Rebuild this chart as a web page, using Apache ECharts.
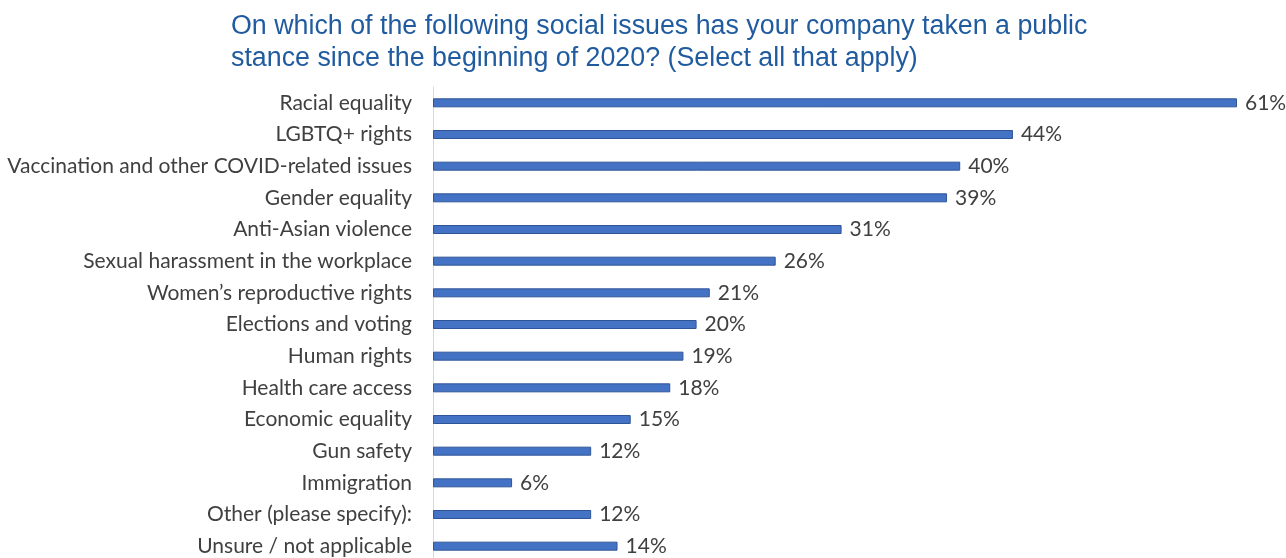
<!DOCTYPE html>
<html>
<head>
<meta charset="utf-8">
<script src="https://cdn.jsdelivr.net/npm/echarts@6/dist/echarts.min.js"></script>
<style>
  html, body { margin: 0; padding: 0; background: #ffffff; }
  #chart { width: 1286px; height: 558px; }
</style>
</head>
<body>
<div id="chart"></div>
<script>
// Social issues, listed top to bottom
const categories = [
  'Racial equality',
  'LGBTQ+ rights',
  'Vaccination and other COVID-related issues',
  'Gender equality',
  'Anti-Asian violence',
  'Sexual harassment in the workplace',
  'Women\u2019s reproductive rights',
  'Elections and voting',
  'Human rights',
  'Health care access',
  'Economic equality',
  'Gun safety',
  'Immigration',
  'Other (please specify):',
  'Unsure / not applicable'
];
// Share of companies (%)
const shares = [61, 44, 40, 39, 31, 26, 21, 20, 19, 18, 15, 12, 6, 12, 14];

const titleLines = [
  'On which of the following social issues has your company taken a public',
  'stance since the beginning of 2020? (Select all that apply)'
];

const chart = echarts.init(document.getElementById('chart'));
chart.setOption({
  animation: false,
  title: {
    text: titleLines.join('\n'),
    left: 226,
    top: 6,
    textStyle: {
      fontFamily: 'Liberation Sans, Arial, sans-serif',
      fontSize: 26.8,
      fontWeight: 'normal',
      color: '#1f5b9e',
      lineHeight: 32
    }
  },
  grid: {
    left: 433, top: 87, width: 804, height: 475,
    outerBoundsMode: 'none'
  },
  xAxis: {
    type: 'value',
    min: 0,
    max: 61,
    show: false
  },
  yAxis: {
    type: 'category',
    data: categories,
    inverse: true,
    axisLine: { show: true, lineStyle: { color: '#d9d9d9', width: 1 } },
    axisTick: { show: false },
    axisLabel: {
      margin: 21,
      fontFamily: 'Lato, Open Sans, sans-serif',
      fontSize: 21,
      color: '#404040'
    }
  },
  series: [{
    type: 'bar',
    data: shares,
    barWidth: 9,
    itemStyle: { color: '#4472c4', borderColor: '#2f5597', borderWidth: 1 },
    label: {
      show: true,
      position: 'right',
      distance: 8,
      formatter: '{c}%',
      fontFamily: 'Lato, Open Sans, sans-serif',
      fontSize: 21,
      color: '#404040'
    }
  }]
});
</script>
</body>
</html>
